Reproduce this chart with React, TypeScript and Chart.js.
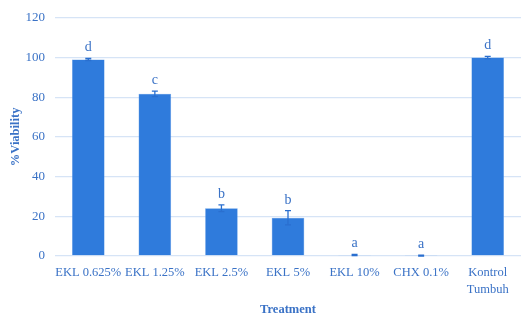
import React, { useEffect, useRef } from "react";
import { Chart, registerables } from "chart.js";

Chart.register(...registerables);

const categories: (string | string[])[] = ["EKL 0.625%", "EKL 1.25%", "EKL 2.5%", "EKL 5%", "EKL 10%", "CHX 0.1%", ["Kontrol", "Tumbuh"]];
const viability = [99, 81.7, 24.1, 19.3, 0.5, 0.2, 100];
const errors = [0.5, 1.4, 1.7, 3.6, 0.3, 0.2, 0.6];
const letters = ["d", "c", "b", "b", "a", "a", "d"];

const BAR = "#2f7bdc";
const TXT = "#3a72c6";
const FONT = "'Liberation Serif', 'DejaVu Serif', serif";

const errPlugin = {
  id: "errbars",
  afterDatasetsDraw(chart: any) {
    const ctx = chart.ctx;
    const meta = chart.getDatasetMeta(0);
    const y = chart.scales.y;
    ctx.save();
    meta.data.forEach((bar: any, i: number) => {
      const x = bar.x;
      const v = viability[i];
      const e = errors[i];
      const yTop = y.getPixelForValue(v + e);
      const yBot = y.getPixelForValue(Math.max(0, v - e));
      ctx.strokeStyle = "#2a6fcf";
      ctx.lineWidth = 1.3;
      ctx.beginPath();
      ctx.moveTo(x, yTop);
      ctx.lineTo(x, yBot);
      ctx.moveTo(x - 3, yTop);
      ctx.lineTo(x + 3, yTop);
      ctx.moveTo(x - 3, yBot);
      ctx.lineTo(x + 3, yBot);
      ctx.stroke();
      ctx.fillStyle = TXT;
      ctx.font = "14px " + FONT;
      ctx.textAlign = "center";
      ctx.textBaseline = "alphabetic";
      ctx.fillText(letters[i], x, yTop - 7);
    });
    ctx.restore();
  },
};

export default function App() {
  const ref = useRef<HTMLCanvasElement | null>(null);
  useEffect(() => {
    document.body.style.margin = "0";
    const chart = new Chart(ref.current!, {
      type: "bar",
      data: {
        labels: categories,
        datasets: [
          {
            data: viability,
            backgroundColor: BAR,
            borderColor: "#5b9ae6",
            borderWidth: 0.5,
            barPercentage: 0.49,
            categoryPercentage: 1,
          },
        ],
      },
      options: {
        animation: false,
        responsive: false,
        maintainAspectRatio: false,
        layout: { padding: { left: 0, right: 0, top: 8, bottom: 0 } },
        plugins: { legend: { display: false }, tooltip: { enabled: false } },
        scales: {
          x: {
            afterFit: (s: any) => { s.height = 60; },
            grid: { display: false },
            border: { display: false },
            ticks: { color: TXT, font: { family: FONT, size: 12.5, lineHeight: 1.35 }, maxRotation: 0, autoSkip: false, padding: 0 },
            title: { display: true, text: "Treatment", color: TXT, font: { family: FONT, size: 12.5, weight: "bold", lineHeight: 1 }, padding: { top: 4, bottom: 0 } },
          },
          y: {
            afterFit: (s: any) => { s.width = 55; },
            min: 0,
            max: 120,
            ticks: { stepSize: 20, color: TXT, font: { family: FONT, size: 13 }, padding: 10 },
            grid: { color: "#d6e4f6", lineWidth: 1.3, drawTicks: false },
            border: { display: false },
            title: { display: true, text: "%Viability", color: TXT, font: { family: FONT, size: 12.5, weight: "bold" }, padding: { top: 8, bottom: 0 } },
          },
        },
      },
      plugins: [errPlugin],
    });
    return () => chart.destroy();
  }, []);
  return (
    <div style={{ width: 521, height: 316, background: "#fff" }}>
      <canvas ref={ref} width={521} height={316} style={{ width: 521, height: 316 }} />
    </div>
  );
}
